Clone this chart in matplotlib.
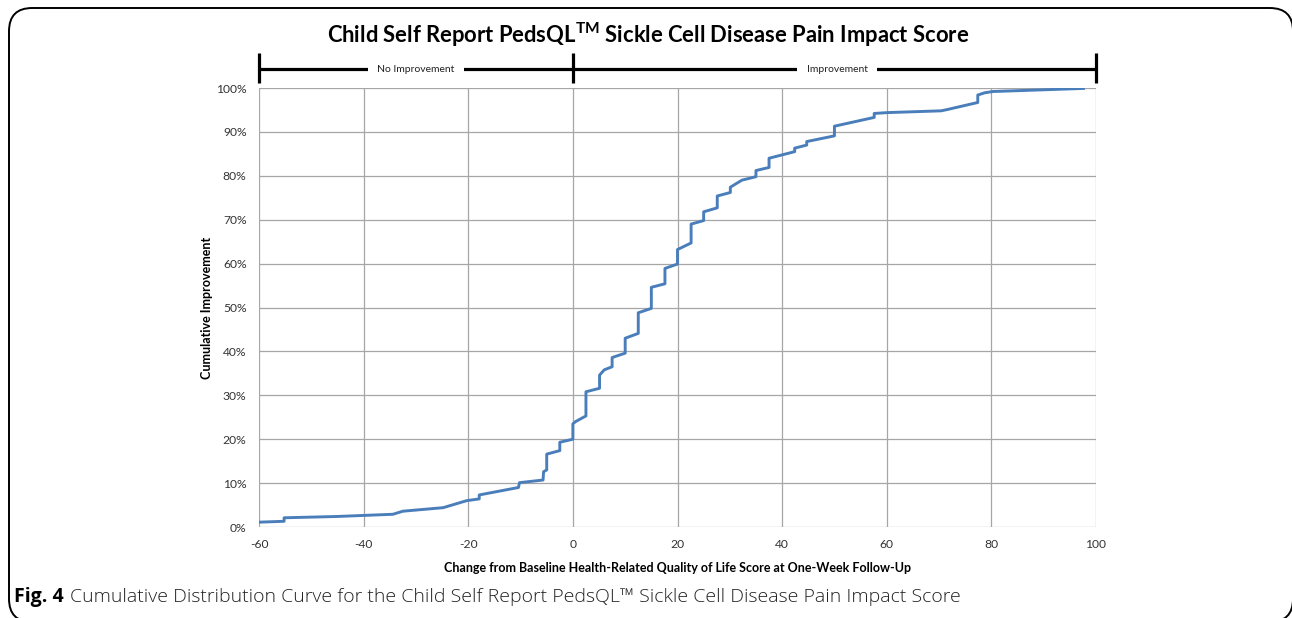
import matplotlib
matplotlib.use("Agg")
import matplotlib.pyplot as plt
from matplotlib.patches import FancyBboxPatch
from matplotlib.transforms import blended_transform_factory

plt.rcParams["axes.unicode_minus"] = False

# ---- data ----
change = [-60, -55.2, -55.2, -45, -34.4, -32.5, -24.8, -20.3, -17.9, -17.9,
          -10.4, -10.2, -5.7, -5.6, -5.0, -5.0, -2.5, -2.5, 0.0, 0.0,
          0.5, 2.5, 2.5, 5.1, 5.1, 6.0, 7.5, 7.5, 10.0, 10.0,
          12.5, 12.5, 15.0, 15.0, 17.6, 17.6, 20.0, 20.0, 22.6, 22.6,
          25.0, 25.0, 27.6, 27.6, 30.1, 30.1, 32.3, 35.0, 35.0, 37.5,
          37.5, 42.4, 42.4, 44.7, 44.7, 50.0, 50.0, 57.6, 57.6, 60.2,
          70.4, 71.6, 77.4, 77.4, 78.7, 80.3, 97.6]
cumulative = [1.1, 1.3, 2.1, 2.4, 2.9, 3.6, 4.4, 6.0, 6.4, 7.3,
              9.0, 10.1, 10.7, 12.6, 13.0, 16.6, 17.4, 19.3, 20.0, 23.5,
              24.0, 25.3, 30.8, 31.6, 34.6, 35.8, 36.5, 38.6, 39.6, 43.0,
              44.1, 48.8, 49.8, 54.6, 55.4, 58.9, 59.9, 63.2, 64.7, 69.0,
              69.8, 71.8, 72.7, 75.4, 76.2, 77.4, 79.0, 79.8, 81.2, 81.9,
              84.0, 85.5, 86.3, 87.0, 87.8, 89.1, 91.3, 93.3, 94.2, 94.4,
              94.8, 95.1, 96.7, 98.4, 98.9, 99.2, 99.9]
x_ticks = [-60, -40, -20, 0, 20, 40, 60, 80, 100]
y_ticks = [0, 10, 20, 30, 40, 50, 60, 70, 80, 90, 100]
bracket_x = [-60, 0, 100]
bracket_labels = ["No Improvement", "Improvement"]
bracket_label_x = [-30, 50.5]

W, H = 1292, 618
fig = plt.figure(figsize=(W / 100, H / 100), dpi=100)
fig.patch.set_facecolor("white")

L, R, T, B = 259, 1096, 88, 527
ax = fig.add_axes([L / W, 1 - B / H, (R - L) / W, (B - T) / H])

ax.plot(change, cumulative, color="#4a7ebb", lw=2.1, solid_joinstyle="round", zorder=3)
ax.set_xlim(-60, 100)
ax.set_ylim(0, 100)
ax.set_xticks(x_ticks)
ax.set_yticks(y_ticks)
ax.set_yticklabels([f"{v}%" for v in y_ticks])
ax.grid(True, color="#a6a6a6", lw=0.9)
ax.set_axisbelow(True)
for s in ax.spines.values():
    s.set_visible(False)
ax.tick_params(length=0, labelsize=8.7, labelcolor="#333333", pad=9)
for lab in ax.get_xticklabels() + ax.get_yticklabels():
    lab.set_family("Lato")

ax.set_xlabel("Change from Baseline Health-Related Quality of Life Score at One-Week Follow-Up",
              fontsize=9, fontweight="bold", family="Lato", labelpad=8)
ax.set_ylabel("Cumulative Improvement", fontsize=9, fontweight="bold", family="Lato", labelpad=2)

# bracket above plot
tr = blended_transform_factory(ax.transData, ax.transAxes)
ah = (B - T)
yline = (B - 69) / ah
ycap_top = (B - 53) / ah
ycap_bot = (B - 83) / ah
ax.plot([bracket_x[0], bracket_x[-1]], [yline, yline], color="black", lw=2.3,
        transform=tr, clip_on=False, solid_capstyle="butt")
for bx in bracket_x:
    ax.plot([bx, bx], [ycap_bot, ycap_top], color="black", lw=2.3,
            transform=tr, clip_on=False, solid_capstyle="butt")
for lbl, lx in zip(bracket_labels, bracket_label_x):
    ax.text(lx, yline, lbl, transform=tr, ha="center", va="center", fontsize=7.5,
            family="Lato", color="#222222",
            bbox=dict(facecolor="white", edgecolor="none", pad=7), zorder=5)

# title
fig.text(648 / W, 1 - 35 / H, "Child Self Report PedsQL$^{\\mathregular{TM}}$ Sickle Cell Disease Pain Impact Score",
         ha="center", va="center", fontsize=15.8, fontweight="bold", family="Lato")

# caption
fig.canvas.draw()
r = fig.canvas.get_renderer()
cap_y = 1 - 597 / H
t1 = fig.text(14 / W, cap_y, "Fig. 4", ha="left", va="center", fontsize=14,
              fontweight="bold", family="Open Sans")
bb = t1.get_window_extent(renderer=r)
fig.text((bb.x1 + 6) / W, cap_y,
         "Cumulative Distribution Curve for the Child Self Report PedsQL\u2122 Sickle Cell Disease Pain Impact Score",
         ha="left", va="center", fontsize=14, family="Open Sans", fontweight="light", color="#222222")

# rounded frame (right edge sits at the image border)
box = FancyBboxPatch((9 / W, -4 / H), (1293 - 9) / W, (H - 8 + 4) / H,
                     boxstyle="round,pad=0,rounding_size=0.018",
                     transform=fig.transFigure, fill=False, edgecolor="black",
                     lw=1.4, clip_on=False, mutation_aspect=W / H)
fig.patches.append(box)

fig.savefig("out.png", dpi=100, facecolor="white")
